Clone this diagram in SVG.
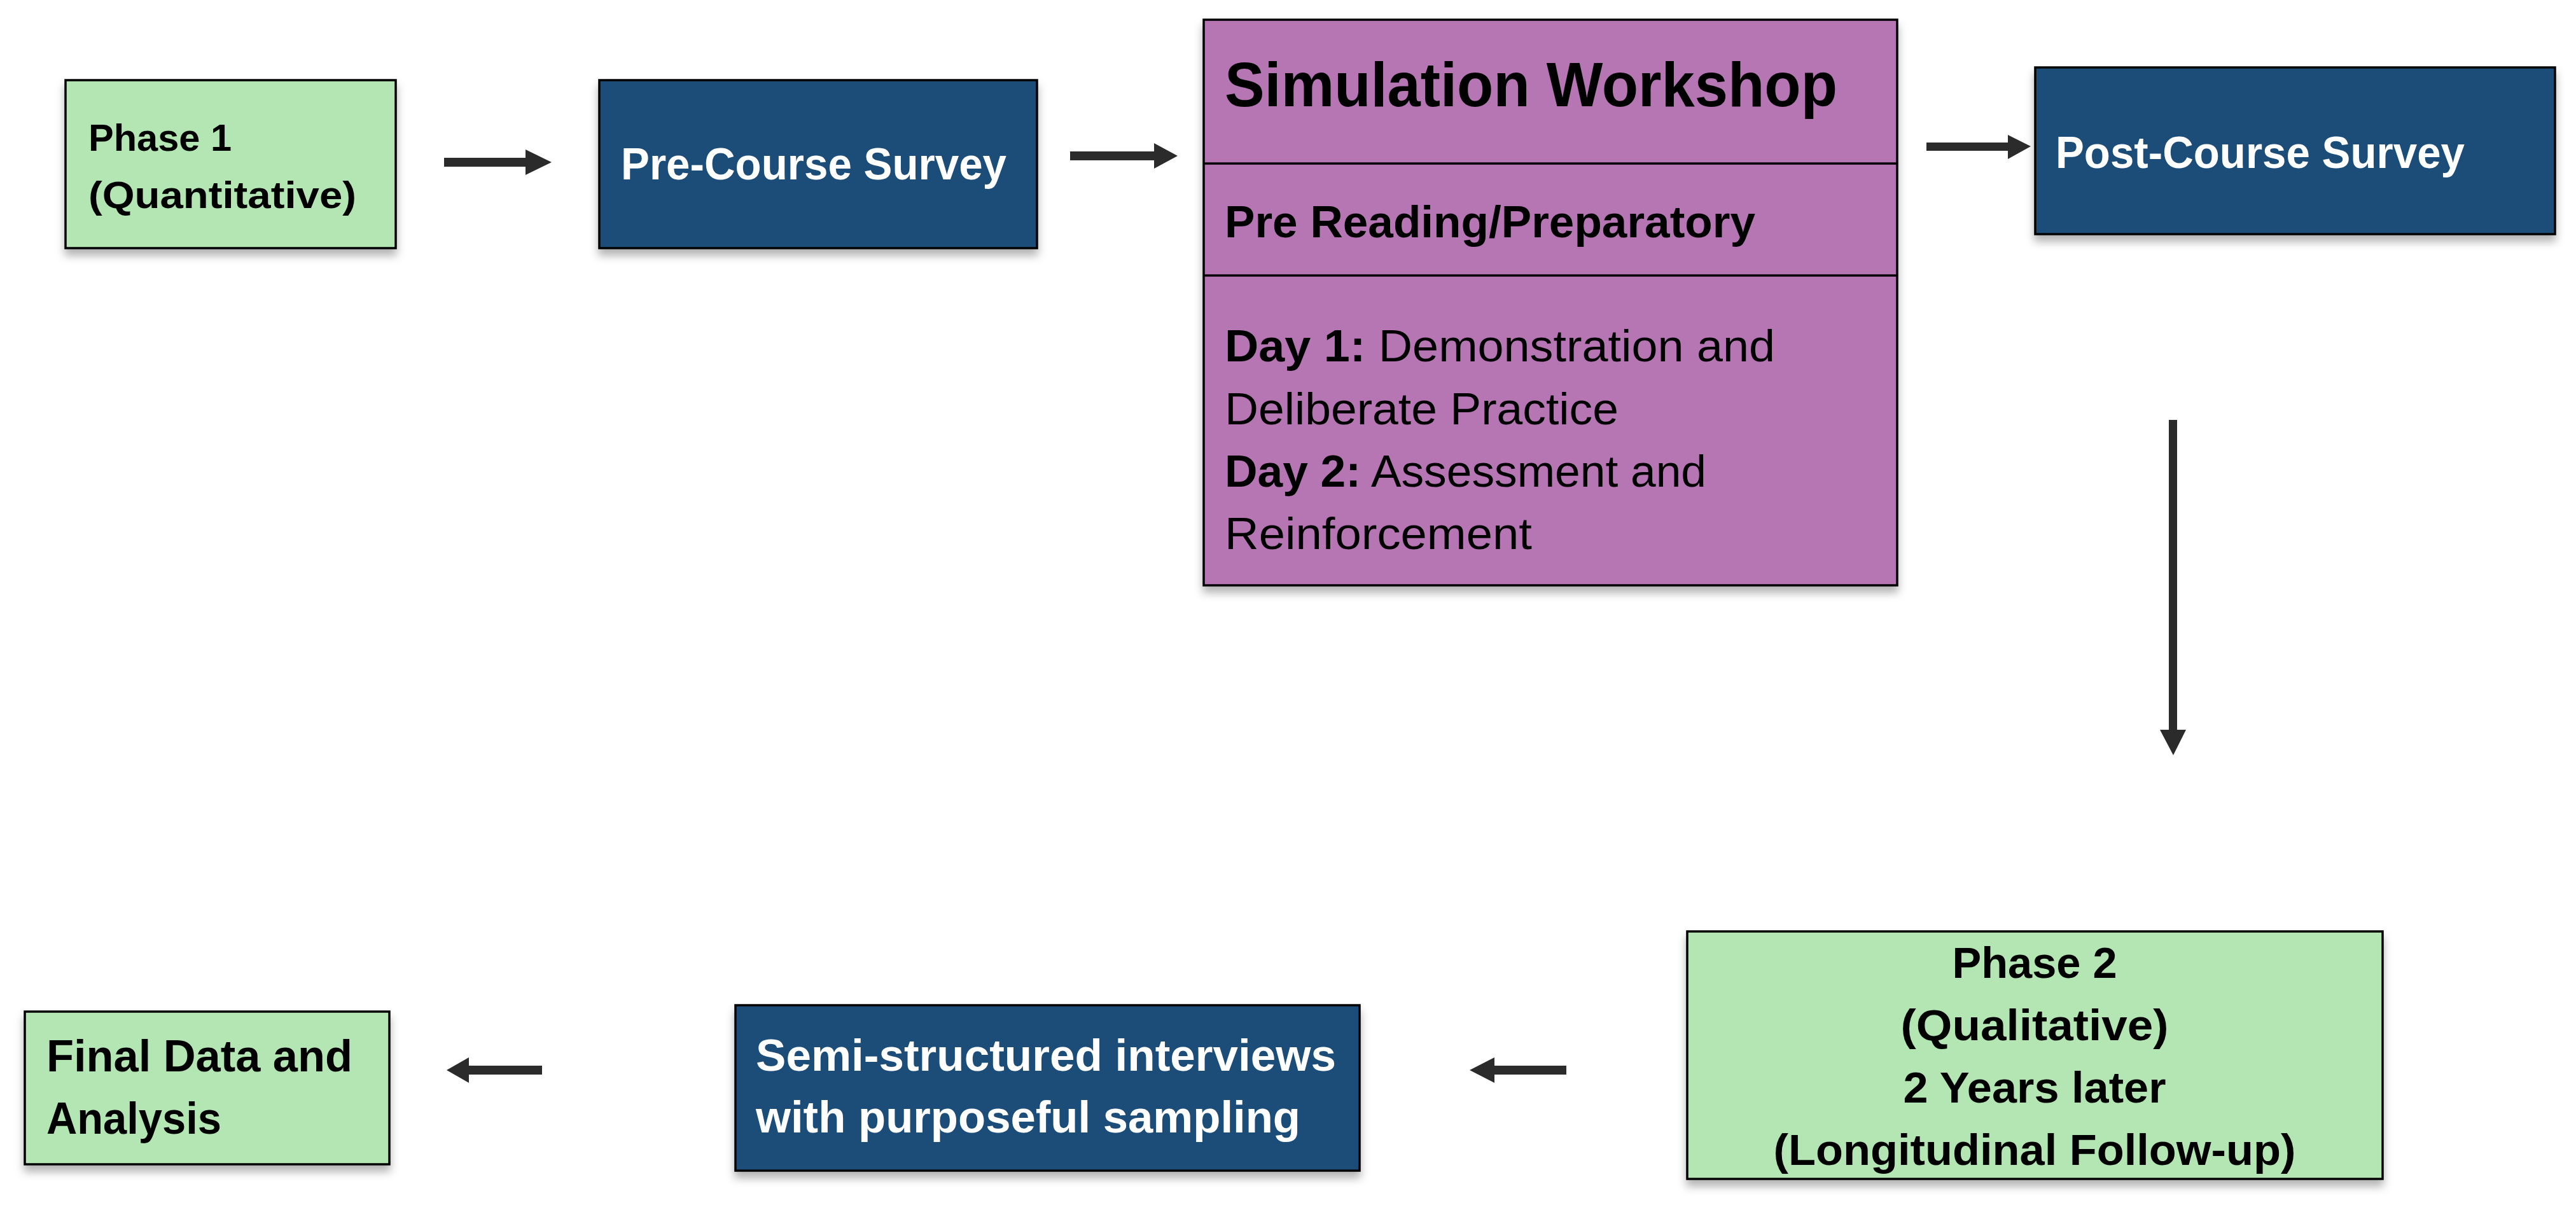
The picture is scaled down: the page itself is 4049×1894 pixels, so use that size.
<svg xmlns="http://www.w3.org/2000/svg" width="4049" height="1894" viewBox="0 0 4049 1894">
<defs>
<filter id="sh" x="-5%" y="-5%" width="110%" height="125%">
<feDropShadow dx="0" dy="10" stdDeviation="7" flood-color="#000" flood-opacity="0.3"/>
</filter>
<style>
.box{stroke:#000;stroke-width:3.5;filter:url(#sh)}
.green{fill:#B3E6B3}
.blue{fill:#1F4E79}
.purple{fill:#B576B3}
.t{font-family:"Liberation Sans",Arial,sans-serif;font-size:70px;fill:#000}
.s59{font-size:59px}
.s68{font-size:68px}
.s98{font-size:98px}
.b{font-weight:bold}
.w{fill:#fff}
.arr{fill:#2B2B2B}
.div{stroke:#000;stroke-width:3.5}
</style>
</defs>
<rect width="4049" height="1894" fill="#fff"/>
<g id="connectors">
<path class="arr" d="M698,248 H826 V235 L867,255 L826,275 V262 H698 Z"/>
<path class="arr" d="M1682,238 H1814 V225 L1851,245 L1814,265 V252 H1682 Z"/>
<path class="arr" d="M3028,224 H3156 V212 L3192,230 L3156,250 V237 H3028 Z"/>
<path class="arr" d="M3409,660 H3422 V1147 H3436 L3416,1187 L3395,1147 H3409 Z"/>
<path class="arr" d="M2462,1675 H2349 V1662 L2310,1682 L2349,1702 V1689 H2462 Z"/>
<path class="arr" d="M852,1675 H737 V1662 L702,1682 L737,1702 V1689 H852 Z"/>
</g>
<g id="phase1">
<rect class="box green" x="103" y="126" width="519" height="264"/>
<text class="t b s59" x="139" y="237" textLength="225" lengthAdjust="spacingAndGlyphs">Phase 1</text>
<text class="t b s59" x="139" y="327" textLength="421" lengthAdjust="spacingAndGlyphs">(Quantitative)</text>
</g>
<g id="pre-course">
<rect class="box blue" x="942" y="126" width="688" height="264"/>
<text class="t b w" x="976" y="282" textLength="606" lengthAdjust="spacingAndGlyphs">Pre-Course Survey</text>
</g>
<g id="workshop">
<rect class="box purple" x="1892" y="31" width="1090" height="889"/>
<line class="div" x1="1892" y1="257" x2="2982" y2="257"/>
<line class="div" x1="1892" y1="433" x2="2982" y2="433"/>
<text class="t b s98" x="1925" y="167" textLength="963" lengthAdjust="spacingAndGlyphs">Simulation Workshop</text>
<text class="t b" x="1925" y="373" textLength="834" lengthAdjust="spacingAndGlyphs">Pre Reading/Preparatory</text>
<text class="t" x="1925" y="568" textLength="865" lengthAdjust="spacingAndGlyphs"><tspan class="b">Day 1:</tspan> Demonstration and</text>
<text class="t" x="1925" y="667" textLength="619" lengthAdjust="spacingAndGlyphs">Deliberate Practice</text>
<text class="t" x="1925" y="765" textLength="757" lengthAdjust="spacingAndGlyphs"><tspan class="b">Day 2:</tspan> Assessment and</text>
<text class="t" x="1925" y="863" textLength="483" lengthAdjust="spacingAndGlyphs">Reinforcement</text>
</g>
<g id="post-course">
<rect class="box blue" x="3199" y="106" width="817" height="262"/>
<text class="t b w" x="3231" y="264" textLength="643" lengthAdjust="spacingAndGlyphs">Post-Course Survey</text>
</g>
<g id="phase2">
<rect class="box green" x="2652" y="1464" width="1093" height="389"/>
<text class="t b s68" x="3198" y="1537" text-anchor="middle" textLength="259" lengthAdjust="spacingAndGlyphs">Phase 2</text>
<text class="t b s68" x="3198" y="1635" text-anchor="middle" textLength="421" lengthAdjust="spacingAndGlyphs">(Qualitative)</text>
<text class="t b s68" x="3198" y="1733" text-anchor="middle" textLength="413" lengthAdjust="spacingAndGlyphs">2 Years later</text>
<text class="t b s68" x="3198" y="1831" text-anchor="middle" textLength="821" lengthAdjust="spacingAndGlyphs">(Longitudinal Follow-up)</text>
</g>
<g id="interviews">
<rect class="box blue" x="1156" y="1580" width="981" height="260"/>
<text class="t b w" x="1188" y="1683" textLength="912" lengthAdjust="spacingAndGlyphs">Semi-structured interviews</text>
<text class="t b w" x="1188" y="1780" textLength="856" lengthAdjust="spacingAndGlyphs">with purposeful sampling</text>
</g>
<g id="final">
<rect class="box green" x="39" y="1590" width="573" height="240"/>
<text class="t b" x="73" y="1684" textLength="481" lengthAdjust="spacingAndGlyphs">Final Data and</text>
<text class="t b" x="73" y="1782" textLength="275" lengthAdjust="spacingAndGlyphs">Analysis</text>
</g>
</svg>
